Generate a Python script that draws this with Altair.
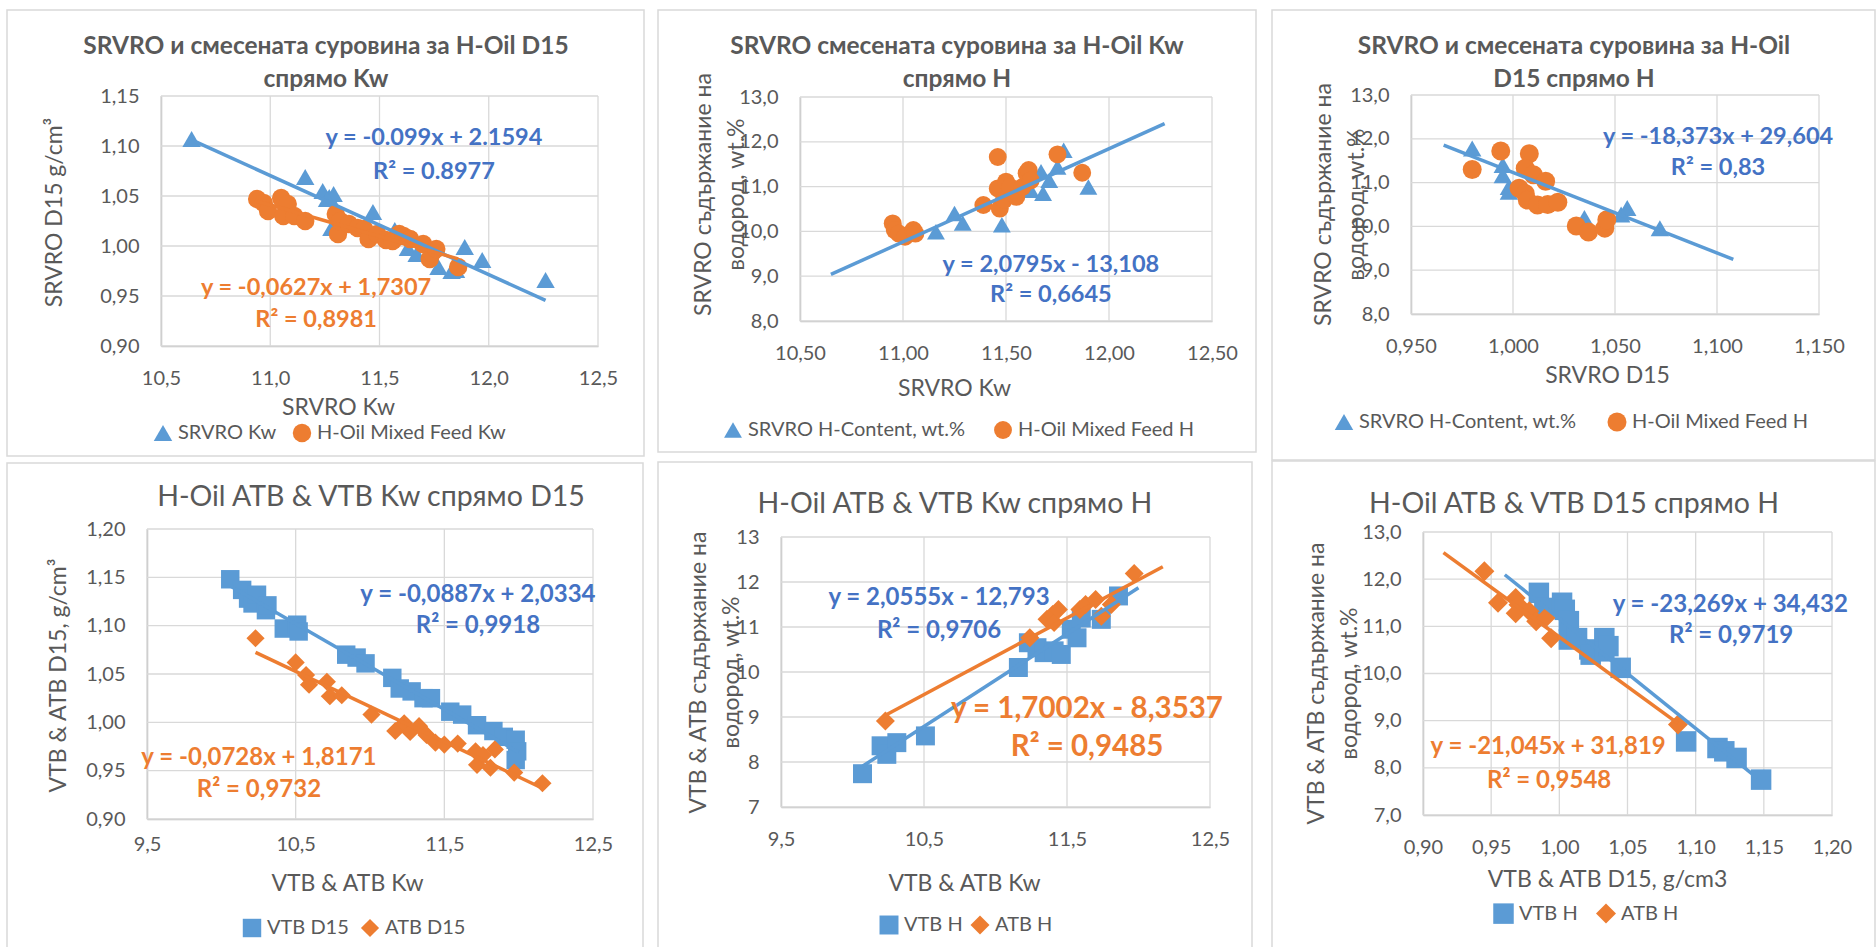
import altair as alt
import pandas as pd

FONT = "Lato, 'Open Sans', sans-serif"
BLUE = "#5B9BD5"
ORANGE = "#ED7D31"
BLUE_TXT = "#4472C4"
GREY = "#595959"
GRID = "#D9D9D9"
CW, CH = 1876, 947

# ---------------- data ----------------
p1_tri_kw = [10.64, 11.16, 11.24, 11.27, 11.29, 11.26, 11.28, 11.47, 11.57, 11.63, 11.66, 11.67, 11.77, 11.83, 11.85, 11.89, 11.97, 12.26]
p1_tri_d15 = [1.107, 1.069, 1.055, 1.049, 1.052, 1.047, 1.018, 1.034, 1.016, 0.998, 1.007, 0.992, 0.979, 0.975, 0.976, 0.999, 0.986, 0.966]
p1_cir_kw = [10.94, 10.97, 10.99, 11.05, 11.08, 11.06, 11.11, 11.16, 11.30, 11.31, 11.32, 11.36, 11.40, 11.43, 11.45, 11.49, 11.53, 11.56, 11.59, 11.61, 11.64, 11.70, 11.73, 11.74, 11.76, 11.86]
p1_cir_d15 = [1.047, 1.043, 1.035, 1.048, 1.042, 1.030, 1.030, 1.025, 1.032, 1.012, 1.025, 1.022, 1.018, 1.017, 1.007, 1.012, 1.006, 1.005, 1.012, 1.010, 1.007, 1.002, 0.987, 0.993, 0.997, 0.979]

p2_tri_kw = [11.16, 11.25, 11.29, 11.48, 11.62, 11.67, 11.68, 11.71, 11.75, 11.78, 11.90]
p2_tri_h = [9.99, 10.40, 10.19, 10.15, 10.92, 11.33, 10.85, 11.14, 11.44, 11.81, 10.99]
p2_cir_kw = [10.95, 10.96, 10.98, 11.01, 11.05, 11.06, 11.39, 11.46, 11.46, 11.47, 11.49, 11.50, 11.52, 11.55, 11.58, 11.60, 11.61, 11.62, 11.75, 11.87]
p2_cir_h = [10.18, 10.03, 9.95, 9.88, 10.03, 9.95, 10.59, 11.66, 10.96, 10.51, 10.70, 11.11, 10.99, 10.77, 10.99, 11.30, 11.37, 11.14, 11.72, 11.31]

p3_tri_d15 = [0.980, 0.995, 0.995, 0.998, 0.998, 1.035, 1.053, 1.056, 1.072]
p3_tri_h = [11.78, 11.40, 11.17, 10.90, 10.79, 10.19, 10.27, 10.42, 9.96]
p3_cir_d15 = [0.980, 0.994, 1.008, 1.006, 1.010, 1.016, 1.003, 1.006, 1.007, 1.012, 1.017, 1.022, 1.031, 1.037, 1.045, 1.046]
p3_cir_h = [11.30, 11.72, 11.66, 11.33, 11.18, 11.03, 10.87, 10.75, 10.60, 10.49, 10.50, 10.55, 10.01, 9.87, 9.96, 10.15]

p4_sq_kw = [10.06, 10.14, 10.18, 10.21, 10.24, 10.30, 10.31, 10.42, 10.51, 10.52, 10.84, 10.91, 10.97, 11.15, 11.20, 11.28, 11.36, 11.41, 11.54, 11.62, 11.72, 11.83, 11.90, 11.98, 11.99, 11.98]
p4_sq_d15 = [1.148, 1.137, 1.128, 1.123, 1.132, 1.116, 1.121, 1.097, 1.101, 1.094, 1.070, 1.067, 1.061, 1.046, 1.035, 1.032, 1.025, 1.025, 1.011, 1.008, 0.997, 0.991, 0.985, 0.982, 0.970, 0.961]
p4_di_kw = [10.23, 10.50, 10.57, 10.59, 10.71, 10.73, 10.81, 11.01, 11.17, 11.23, 11.27, 11.33, 11.38, 11.44, 11.50, 11.59, 11.71, 11.72, 11.76, 11.81, 11.84, 11.97, 12.16]
p4_di_d15 = [1.087, 1.062, 1.049, 1.039, 1.042, 1.027, 1.028, 1.008, 0.991, 0.999, 0.990, 0.996, 0.987, 0.979, 0.977, 0.978, 0.970, 0.956, 0.966, 0.953, 0.972, 0.948, 0.937]

p5_sq_kw = [10.07, 10.20, 10.24, 10.31, 10.51, 11.16, 11.23, 11.29, 11.34, 11.41, 11.46, 11.53, 11.57, 11.60, 11.74, 11.86]
p5_sq_h = [7.74, 8.36, 8.17, 8.43, 8.58, 10.10, 10.65, 10.54, 10.43, 10.47, 10.39, 10.95, 10.76, 11.20, 11.17, 11.69]
p5_di_kw = [10.23, 11.24, 11.36, 11.40, 11.41, 11.44, 11.59, 11.63, 11.70, 11.74, 11.81, 11.97]
p5_di_h = [8.91, 10.76, 11.17, 11.28, 11.10, 11.39, 11.39, 11.50, 11.61, 11.24, 11.50, 12.19]

p6_sq_d15 = [0.985, 0.989, 1.002, 1.004, 1.007, 1.007, 1.013, 1.022, 1.023, 1.033, 1.033, 1.036, 1.045, 1.093, 1.116, 1.121, 1.130, 1.148]
p6_sq_h = [11.71, 11.39, 11.50, 11.35, 11.11, 10.72, 10.75, 10.51, 10.40, 10.75, 10.47, 10.58, 10.12, 8.56, 8.42, 8.35, 8.21, 7.75]
p6_di_d15 = [0.945, 0.955, 0.968, 0.970, 0.968, 0.978, 0.983, 0.990, 0.994, 1.087]
p6_di_h = [12.17, 11.50, 11.60, 11.46, 11.28, 11.32, 11.11, 11.18, 10.75, 8.92]

# trend lines: (x start, x end, slope, intercept) from the printed equations
p1_trends = [(10.64, 12.26, -0.099, 2.1594, BLUE), (10.94, 11.86, -0.0627, 1.7307, ORANGE)]
p2_trends = [(10.65, 12.27, 2.0795, -13.108, BLUE)]
p3_trends = [(0.966, 1.108, -18.373, 29.604, BLUE)]
p4_trends = [(10.06, 12.00, -0.0887, 2.0334, BLUE), (10.23, 12.16, -0.0728, 1.8171, ORANGE)]
p5_trends = [(10.07, 12.00, 2.0555, -12.793, BLUE), (10.23, 12.17, 1.7002, -8.3537, ORANGE)]
p6_trends = [(0.960, 1.145, -23.269, 34.432, BLUE), (0.915, 1.087, -21.045, 31.819, ORANGE)]

# ---------------- panel layout (page pixels) ----------------
panels = [
    dict(plot=(161, 96, 437, 250),
         xdom=[10.5, 12.5], xticks=[10.5, 11.0, 11.5, 12.0, 12.5], xfmt='.1f',
         ydom=[0.90, 1.15], yticks=[0.90, 0.95, 1.00, 1.05, 1.10, 1.15], yfmt='.2f',
         series=[("SRVRO Kw", p1_tri_kw, p1_tri_d15), ("H-Oil Mixed Feed Kw", p1_cir_kw, p1_cir_d15)],
         shapes=['triangle-up', 'circle'], sizes=[340, 340], legsym=196,
         trends=p1_trends,
         ann=[("y = -0.099x + 2.1594", 11.749, 1.108, BLUE_TXT, 23.5), ("R² = 0.8977", 11.749, 1.074, BLUE_TXT, 23.5),
              ("y = -0,0627x + 1,7307", 11.21, 0.958, ORANGE, 23.5), ("R² = 0,8981", 11.21, 0.926, ORANGE, 23.5)],
         titles=[("SRVRO и смесената суровина за H-Oil D15", 326, 47), ("спрямо Kw", 326, 80)],
         tsize=24.5, tweight='bold',
         xtitle="SRVRO Kw", xtpos=(338, 407), ytitle="SRVRO D15 g/cm³", ytpos=(54, 212),
         legend=(153, 423, 15), frame=(7, 10, 644, 456), xlp=22),
    dict(plot=(800, 97, 412, 224),
         xdom=[10.5, 12.5], xticks=[10.5, 11.0, 11.5, 12.0, 12.5], xfmt='.2f',
         ydom=[8.0, 13.0], yticks=[8, 9, 10, 11, 12, 13], yfmt='.1f',
         series=[("SRVRO H-Content, wt.%", p2_tri_kw, p2_tri_h), ("H-Oil Mixed Feed H", p2_cir_kw, p2_cir_h)],
         shapes=['triangle-up', 'circle'], sizes=[320, 320], legsym=196,
         trends=p2_trends,
         ann=[("y = 2,0795x - 13,108", 11.718, 9.25, BLUE_TXT, 23.5), ("R² = 0,6645", 11.718, 8.58, BLUE_TXT, 23.5)],
         titles=[("SRVRO смесената суровина за H-Oil Kw", 957, 47), ("спрямо H", 957, 80)],
         tsize=24.5, tweight='bold',
         xtitle="SRVRO Kw", xtpos=(954, 388), ytitle=["SRVRO съдържание на", "водород, wt.%"], ytpos=(703.5, 194),
         legend=(723, 420, 27), frame=(658, 10, 1256, 452), xlp=22),
    dict(plot=(1411, 95, 408, 219),
         xdom=[0.95, 1.15], xticks=[0.95, 1.0, 1.05, 1.1, 1.15], xfmt='.3f',
         ydom=[8.0, 13.0], yticks=[8, 9, 10, 11, 12, 13], yfmt='.1f',
         series=[("SRVRO H-Content, wt.%", p3_tri_d15, p3_tri_h), ("H-Oil Mixed Feed H", p3_cir_d15, p3_cir_h)],
         shapes=['triangle-up', 'circle'], sizes=[340, 360], legsym=196,
         trends=p3_trends,
         ann=[("y = -18,373x + 29,604", 1.1005, 12.04, BLUE_TXT, 23.5), ("R² = 0,83", 1.1005, 11.33, BLUE_TXT, 23.5)],
         titles=[("SRVRO и смесената суровина за H-Oil", 1574, 47), ("D15 спрямо H", 1574, 80)],
         tsize=24.5, tweight='bold',
         xtitle="SRVRO D15", xtpos=(1607, 375), ytitle=["SRVRO съдържание на", "водород, wt.%"], ytpos=(1323, 204),
         legend=(1334, 412, 30), frame=(1272, 10, 1875, 460), xlp=22),
    dict(plot=(147, 529, 446, 290),
         xdom=[9.5, 12.5], xticks=[9.5, 10.5, 11.5, 12.5], xfmt='.1f',
         ydom=[0.90, 1.20], yticks=[0.90, 0.95, 1.00, 1.05, 1.10, 1.15, 1.20], yfmt='.2f',
         series=[("VTB D15", p4_sq_kw, p4_sq_d15), ("ATB D15", p4_di_kw, p4_di_d15)],
         shapes=['square', 'diamond'], sizes=[340, 330], legsym=225,
         trends=p4_trends,
         ann=[("y = -0,0887x + 2,0334", 11.726, 1.132, BLUE_TXT, 24), ("R² = 0,9918", 11.726, 1.100, BLUE_TXT, 24),
              ("y = -0,0728x + 1,8171", 10.253, 0.963, ORANGE, 24), ("R² = 0,9732", 10.253, 0.930, ORANGE, 24)],
         titles=[("H-Oil ATB & VTB Kw спрямо D15", 371, 497)],
         tsize=28.5, tweight='normal',
         xtitle="VTB & ATB Kw", xtpos=(347, 883), ytitle="VTB & ATB D15, g/cm³", ytpos=(58, 675),
         legend=(242, 918, 11), frame=(7, 463, 643, 950), xlp=15),
    dict(plot=(781, 537, 429, 270),
         xdom=[9.5, 12.5], xticks=[9.5, 10.5, 11.5, 12.5], xfmt='.1f',
         ydom=[7, 13], yticks=[7, 8, 9, 10, 11, 12, 13], yfmt='.0f',
         series=[("VTB H", p5_sq_kw, p5_sq_h), ("ATB H", p5_di_kw, p5_di_h)],
         shapes=['square', 'diamond'], sizes=[360, 360], legsym=225,
         trends=p5_trends,
         ann=[("y = 2,0555x - 12,793", 10.605, 11.64, BLUE_TXT, 24), ("R² = 0,9706", 10.605, 10.91, BLUE_TXT, 24),
              ("y = 1,7002x - 8,3537", 11.64, 9.18, ORANGE, 29.5), ("R² = 0,9485", 11.64, 8.33, ORANGE, 29.5)],
         titles=[("H-Oil ATB & VTB Kw спрямо H", 955, 504)],
         tsize=28.5, tweight='normal',
         xtitle="VTB & ATB Kw", xtpos=(964, 883), ytitle=["VTB & ATB съдържание на", "водород, wt.%"], ytpos=(698.5, 672),
         legend=(879, 915, 7), frame=(658, 462, 1252, 950), xlp=22),
    dict(plot=(1423, 532, 409, 283),
         xdom=[0.90, 1.20], xticks=[0.90, 0.95, 1.00, 1.05, 1.10, 1.15, 1.20], xfmt='.2f',
         ydom=[7, 13], yticks=[7, 8, 9, 10, 11, 12, 13], yfmt='.1f',
         series=[("VTB H", p6_sq_d15, p6_sq_h), ("ATB H", p6_di_d15, p6_di_h)],
         shapes=['square', 'diamond'], sizes=[420, 400], legsym=225,
         trends=p6_trends,
         ann=[("y = -23,269x + 34,432", 1.1254, 11.45, BLUE_TXT, 24), ("R² = 0,9719", 1.126, 10.80, BLUE_TXT, 24),
              ("y = -21,045x + 31,819", 0.9918, 8.45, ORANGE, 24), ("R² = 0,9548", 0.9925, 7.72, ORANGE, 24)],
         titles=[("H-Oil ATB & VTB D15 спрямо H", 1574, 504)],
         tsize=28.5, tweight='normal',
         xtitle="VTB & ATB D15, g/cm3", xtpos=(1607, 879), ytitle=["VTB & ATB съдържание на", "водород, wt.%"], ytpos=(1316, 683),
         legend=(1493, 903, 18), frame=(1272, 461, 1875, 950), xlp=22),
]


def lbl(fmt):
    return f"replace(format(datum.value, '{fmt}'), '.', ',')"


def build(p):
    L, T, W, H = p['plot']
    B = T + H
    one = pd.DataFrame({'k': [0]})
    fx0, fy0, fx1, fy1 = p['frame']
    frame = alt.Chart(one).mark_rect(fillOpacity=0, stroke=GRID, strokeWidth=1.5).encode(
        x=alt.value(fx0), x2=alt.value(fx1), y=alt.value(fy0), y2=alt.value(fy1))

    xsc = alt.Scale(domain=p['xdom'], range=[L, L + W], nice=False, zero=False)
    ysc = alt.Scale(domain=p['ydom'], range=[B, T], nice=False, zero=False)
    xaxis = alt.Axis(orient='bottom', offset=B - CH, values=p['xticks'], labelExpr=lbl(p['xfmt']), grid=False,
                     title=p['xtitle'], titleX=p['xtpos'][0], titleY=p['xtpos'][1] - B,
                     titleBaseline='middle', titleAlign='center', labelPadding=p['xlp'])
    yaxis = alt.Axis(orient='left', offset=-L, values=p['yticks'], labelExpr=lbl(p['yfmt']), grid=False,
                     title=p['ytitle'], titleX=p['ytpos'][0] - L, titleY=p['ytpos'][1],
                     titleBaseline='middle', titleAlign='center', titleLineHeight=33, labelPadding=22)
    X = alt.X('x:Q', scale=xsc, axis=xaxis)
    Y = alt.Y('y:Q', scale=ysc, axis=yaxis)

    # gridlines through the scales
    xt, yt = p['xticks'], p['yticks']
    vg = pd.DataFrame({'x': xt, 'y': [p['ydom'][0]] * len(xt), 'y2': [p['ydom'][1]] * len(xt)})
    hg = pd.DataFrame({'y': yt, 'x': [p['xdom'][0]] * len(yt), 'x2': [p['xdom'][1]] * len(yt)})
    vgrid = alt.Chart(vg).mark_rule(color=GRID, strokeWidth=1.3).encode(x=X, y=Y, y2='y2:Q')
    hgrid = alt.Chart(hg).mark_rule(color=GRID, strokeWidth=1.3).encode(y=Y, x=X, x2='x2:Q')

    rows = []
    for name, xs, ys in p['series']:
        for a, b in zip(xs, ys):
            rows.append({'x': a, 'y': b, 's': name})
    df = pd.DataFrame(rows)
    names = [s[0] for s in p['series']]
    lx, ly, cpad = p['legend']
    leg = alt.Legend(orient='none', legendX=lx, legendY=ly, direction='horizontal', title=None,
                     labelFont=FONT, labelFontSize=20, labelColor=GREY, labelLimit=600, symbolSize=p['legsym'],
                     columnPadding=cpad, labelOffset=5, padding=0, symbolStrokeWidth=0, symbolOpacity=1)
    pts = alt.Chart(df).mark_point(filled=True, opacity=1, strokeWidth=0).encode(
        x=X, y=Y,
        color=alt.Color('s:N', scale=alt.Scale(domain=names, range=[BLUE, ORANGE]), legend=leg),
        shape=alt.Shape('s:N', scale=alt.Scale(domain=names, range=p['shapes']), legend=leg),
        size=alt.Size('s:N', scale=alt.Scale(domain=names, range=p['sizes']), legend=None),
    )

    layers = [vgrid, hgrid, frame, pts]
    for x0, x1, a, b, col in p['trends']:
        tdf = pd.DataFrame({'x': [x0, x1], 'y': [a * x0 + b, a * x1 + b]})
        layers.append(alt.Chart(tdf).mark_line(strokeWidth=3.5, color=col).encode(x=X, y=Y))
    for txt, ax, ay, col, fs in p['ann']:
        adf = pd.DataFrame({'x': [ax], 'y': [ay], 't': [txt]})
        layers.append(alt.Chart(adf).mark_text(font=FONT, fontSize=fs, fontWeight='bold', color=col,
                                               align='center', baseline='middle').encode(
            x=X, y=Y, text='t:N'))
    for txt, tx, ty in p['titles']:
        layers.append(alt.Chart(one).mark_text(font=FONT, fontSize=p['tsize'], fontWeight=p['tweight'],
                                               color=GREY, align='center', baseline='middle').encode(
            x=alt.value(tx), y=alt.value(ty), text=alt.value(txt)))
    return alt.layer(*layers)


chart = alt.layer(*[build(p) for p in panels]).resolve_scale(
    x='independent', y='independent', color='independent', shape='independent', size='independent'
).resolve_axis(x='independent', y='independent').resolve_legend(
    color='independent', shape='independent', size='independent'
).properties(
    width=CW, height=CH, autosize=alt.AutoSizeParams(type='none'), padding=0, background='white'
).configure_view(stroke='transparent').configure_axis(
    domainColor='#BFBFBF', domainWidth=1.5, ticks=False, tickSize=0, grid=False,
    labelFont=FONT, labelFontSize=20, labelColor=GREY, labelFlush=False, labelOverlap=False,
    titleFont=FONT, titleFontSize=23, titleColor=GREY, titleFontWeight='normal'
)

chart.save("out.html", embed_options={"renderer": "svg", "actions": False})
